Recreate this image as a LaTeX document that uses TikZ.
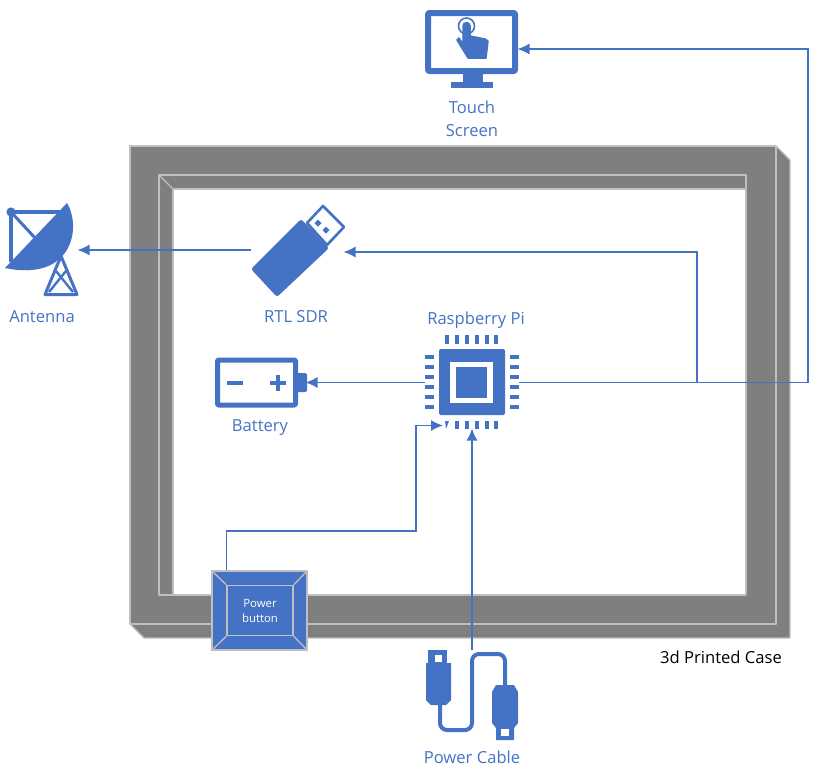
\documentclass[tikz,border=0pt]{standalone}
\usepackage{fontspec}
\setmainfont{Open Sans}
\usetikzlibrary{arrows.meta}
\definecolor{iconblue}{HTML}{4472C4}
\definecolor{casegray}{HTML}{7F7F7F}
\definecolor{caseedge}{HTML}{BFBFBF}
\tikzset{
	iconbox/.style={rectangle, inner sep=0pt, outer sep=0pt, minimum width=#1},
	iconbox/.default=94pt,
	wire/.style={iconblue, line width=1.4pt, shorten >=-1.5pt, -{Latex[length=12pt, width=11pt]}},
	caseface/.style={fill=casegray, draw=caseedge, line width=1.3pt, line join=round},
	iconlabel/.style={iconblue, inner sep=0pt, align=center, font=\fontsize{16.6}{23}\selectfont},
	iconfill/.style={fill=iconblue, draw=none},
	iconline/.style={draw=iconblue, line join=round}
}

\begin{document}
\begin{tikzpicture}[x=1pt, y=-1pt]
	\useasboundingbox (0,0) rectangle (827,766);
	%%%	Case
	\draw[caseface] (776,146) -- (790,160) -- (790,638) -- (144,638) -- (130,624) -- (776,624) -- cycle;
	\draw[caseface, even odd rule] (130,146) rectangle (776,624) (159,175) rectangle (746,595);
	\draw[caseface] (159,175) -- (746,175) -- (746,189) -- (173,189) -- (173,595) -- (159,595) -- cycle;
	\draw[caseedge, line width=1.3pt] (159,175) -- (173,189);
	\node[inner sep=0pt, font=\fontsize{16.6}{20}\selectfont] (caselabel) at (721,657) {3d Printed Case};

	%%%	Nodes
	\node[iconbox] (screen) at (472,49) [minimum height=80pt] {};
	\node[iconbox] (rtl) at (298,250) [minimum height=90pt] {};
	\node[iconbox=74pt] (antenna) at (42,250) [minimum height=90pt] {};
	\node[iconbox=92pt] (battery) at (261,382.5) [minimum height=52pt] {};
	\node[iconbox] (pi) at (472,382.5) [minimum height=95pt] {};
	\node[iconbox] (cable) at (472,695) [minimum height=90pt] {};
	\coordinate (piin) at (441.5,425.5);
	\coordinate (rtlin) at (345,252);
	\coordinate (rightbus) at (808,49);
	\coordinate (rtlbus) at (697,252);
	\coordinate (buttonbus) at (416,531);

	% Touch screen
	\draw[iconline, line width=6pt, rounded corners=1pt] (428,13) rectangle (515,71);
	\fill[iconblue] (463,74) rectangle (483,83);
	\fill[iconblue] (451,82) rectangle (493,88);
	\draw[iconline, line width=1.6pt] (466.5,26) circle (8pt);
	\filldraw[iconfill, iconline, line width=1.5pt] (463,26) arc (180:0:3.5pt) -- (470,36) -- (485,39) -- (488,41) -- (486,58) -- (468,58) -- (457,40) -- (459,38) -- (463,44) -- cycle;

	% Antenna
	\fill[iconblue] (67,203) .. controls (82,228) and (72,282) .. (5,268) -- cycle;
	\draw[iconline, line width=3.6pt] (65,212) -- (11,212) -- (11,262);
	\draw[iconline, line width=3pt] (11,212) -- (36,239);
	\fill[iconblue] (11,212) circle (4.6pt);
	\draw[iconline, line width=3pt] (61,256) -- (45,294.5) -- (77,294.5) -- cycle;
	\draw[iconline, line width=2.4pt] (56,271) -- (73,292) (66,271) -- (49,292);

	% RTL SDR
	\fill[iconblue, rounded corners=2.5pt] (251,269) -- (277,297) -- (329,248) -- (301,219) -- cycle;
	\draw[iconline, fill=white, line width=2.6pt] (307,223) -- (323,206) -- (344,227) -- (327,245) -- cycle;
	\fill[iconblue] (318,219.5) -- (321.5,223) -- (318,226.5) -- (314.5,223) -- cycle;
	\fill[iconblue] (326,226.5) -- (329.5,230) -- (326,233.5) -- (322.5,230) -- cycle;

	% Battery
	\draw[iconline, line width=5pt, rounded corners=1pt] (217.5,360) rectangle (295.5,405);
	\fill[iconblue, rounded corners=1.5pt] (296,373) rectangle (307,392);
	\fill[iconblue] (227,381) rectangle (243,385);
	\fill[iconblue] (270,381) rectangle (286,385);
	\fill[iconblue] (276,375) rectangle (280,391);

	% Raspberry Pi
	\fill[iconblue, rounded corners=2pt] (439,349) rectangle (505,415);
	\fill[white] (450,362) rectangle (493,403);
	\fill[iconblue] (456,367) rectangle (487,398);
	\foreach \y in {357,367,377,387,397,407} {
		\fill[iconblue] (425,\y-2) rectangle (434,\y+2);
		\fill[iconblue] (510,\y-2) rectangle (519,\y+2);
	}
	\foreach \x in {447,457,467,477,487,496} {
		\fill[iconblue] (\x-2,335) rectangle (\x+2,344);
	}
	\foreach \x in {457,467,477,487,496} {
		\fill[iconblue] (\x-2,421) rectangle (\x+2,429);
	}
	\fill[iconblue] (445,421) -- (449,421) -- (446,429) -- cycle;

	% Power cable
	\draw[iconline, line width=4pt, rounded corners=7pt] (440,700) -- (440,730) -- (472,730) -- (472,654) -- (505,654) -- (505,690);
	\fill[iconblue] (428,650) rectangle (447,664);
	\fill[white] (435,655) rectangle (442,662);
	\fill[iconblue] (426,663) -- (451,663) -- (451,700) -- (446,705) -- (431,705) -- (426,700) -- cycle;
	\fill[iconblue] (496,685) -- (514,685) -- (518,692) -- (518,723) -- (514,728) -- (514,740) -- (496,740) -- (496,728) -- (492,723) -- (492,692) -- cycle;
	\fill[white] (501,729) rectangle (509,736);

	% Power button
	\node[rectangle, fill=iconblue, draw=caseedge, line width=1.3pt, minimum width=95pt, minimum height=79pt] (button) at (259.5,610.5) {};
	\node[rectangle, draw=caseedge, line width=1.3pt, minimum width=66pt, minimum height=50pt, inner sep=0pt, text=white, align=center, font=\fontsize{11.4}{15}\selectfont] (buttonface) at (260,610.5) {Power\\button};
	\foreach \c in {north west, north east, south west, south east}
		\draw[caseedge, line width=1.3pt] (button.\c) -- (buttonface.\c);

	%%%	Connectors
	\draw[wire] (pi.east) -| (rightbus) -- (screen.east);
	\draw[wire] (pi.east) -| (rtlbus) -- (rtlin);
	\draw[wire] (rtl.west) -- (antenna.east);
	\draw[wire] (pi.west) -- (battery.east);
	\draw[wire] (button.north -| buttonface.west) |- (buttonbus) |- (piin);
	\draw[wire] (cable.north) -- (pi.south);

	%%%	Labels
	\node[iconlabel] (screenlabel) at (472,118.5) {Touch\\Screen};
	\node[iconlabel] (rtllabel) at (296,317) {RTL SDR};
	\node[iconlabel] (pilabel) at (476,320) {Raspberry Pi};
	\node[iconlabel] (batterylabel) at (260,428) {Battery};
	\node[iconlabel] (antennalabel) at (42,317) {Antenna};
	\node[iconlabel] (cablelabel) at (472,757.5) {Power Cable};
\end{tikzpicture}
\end{document}
